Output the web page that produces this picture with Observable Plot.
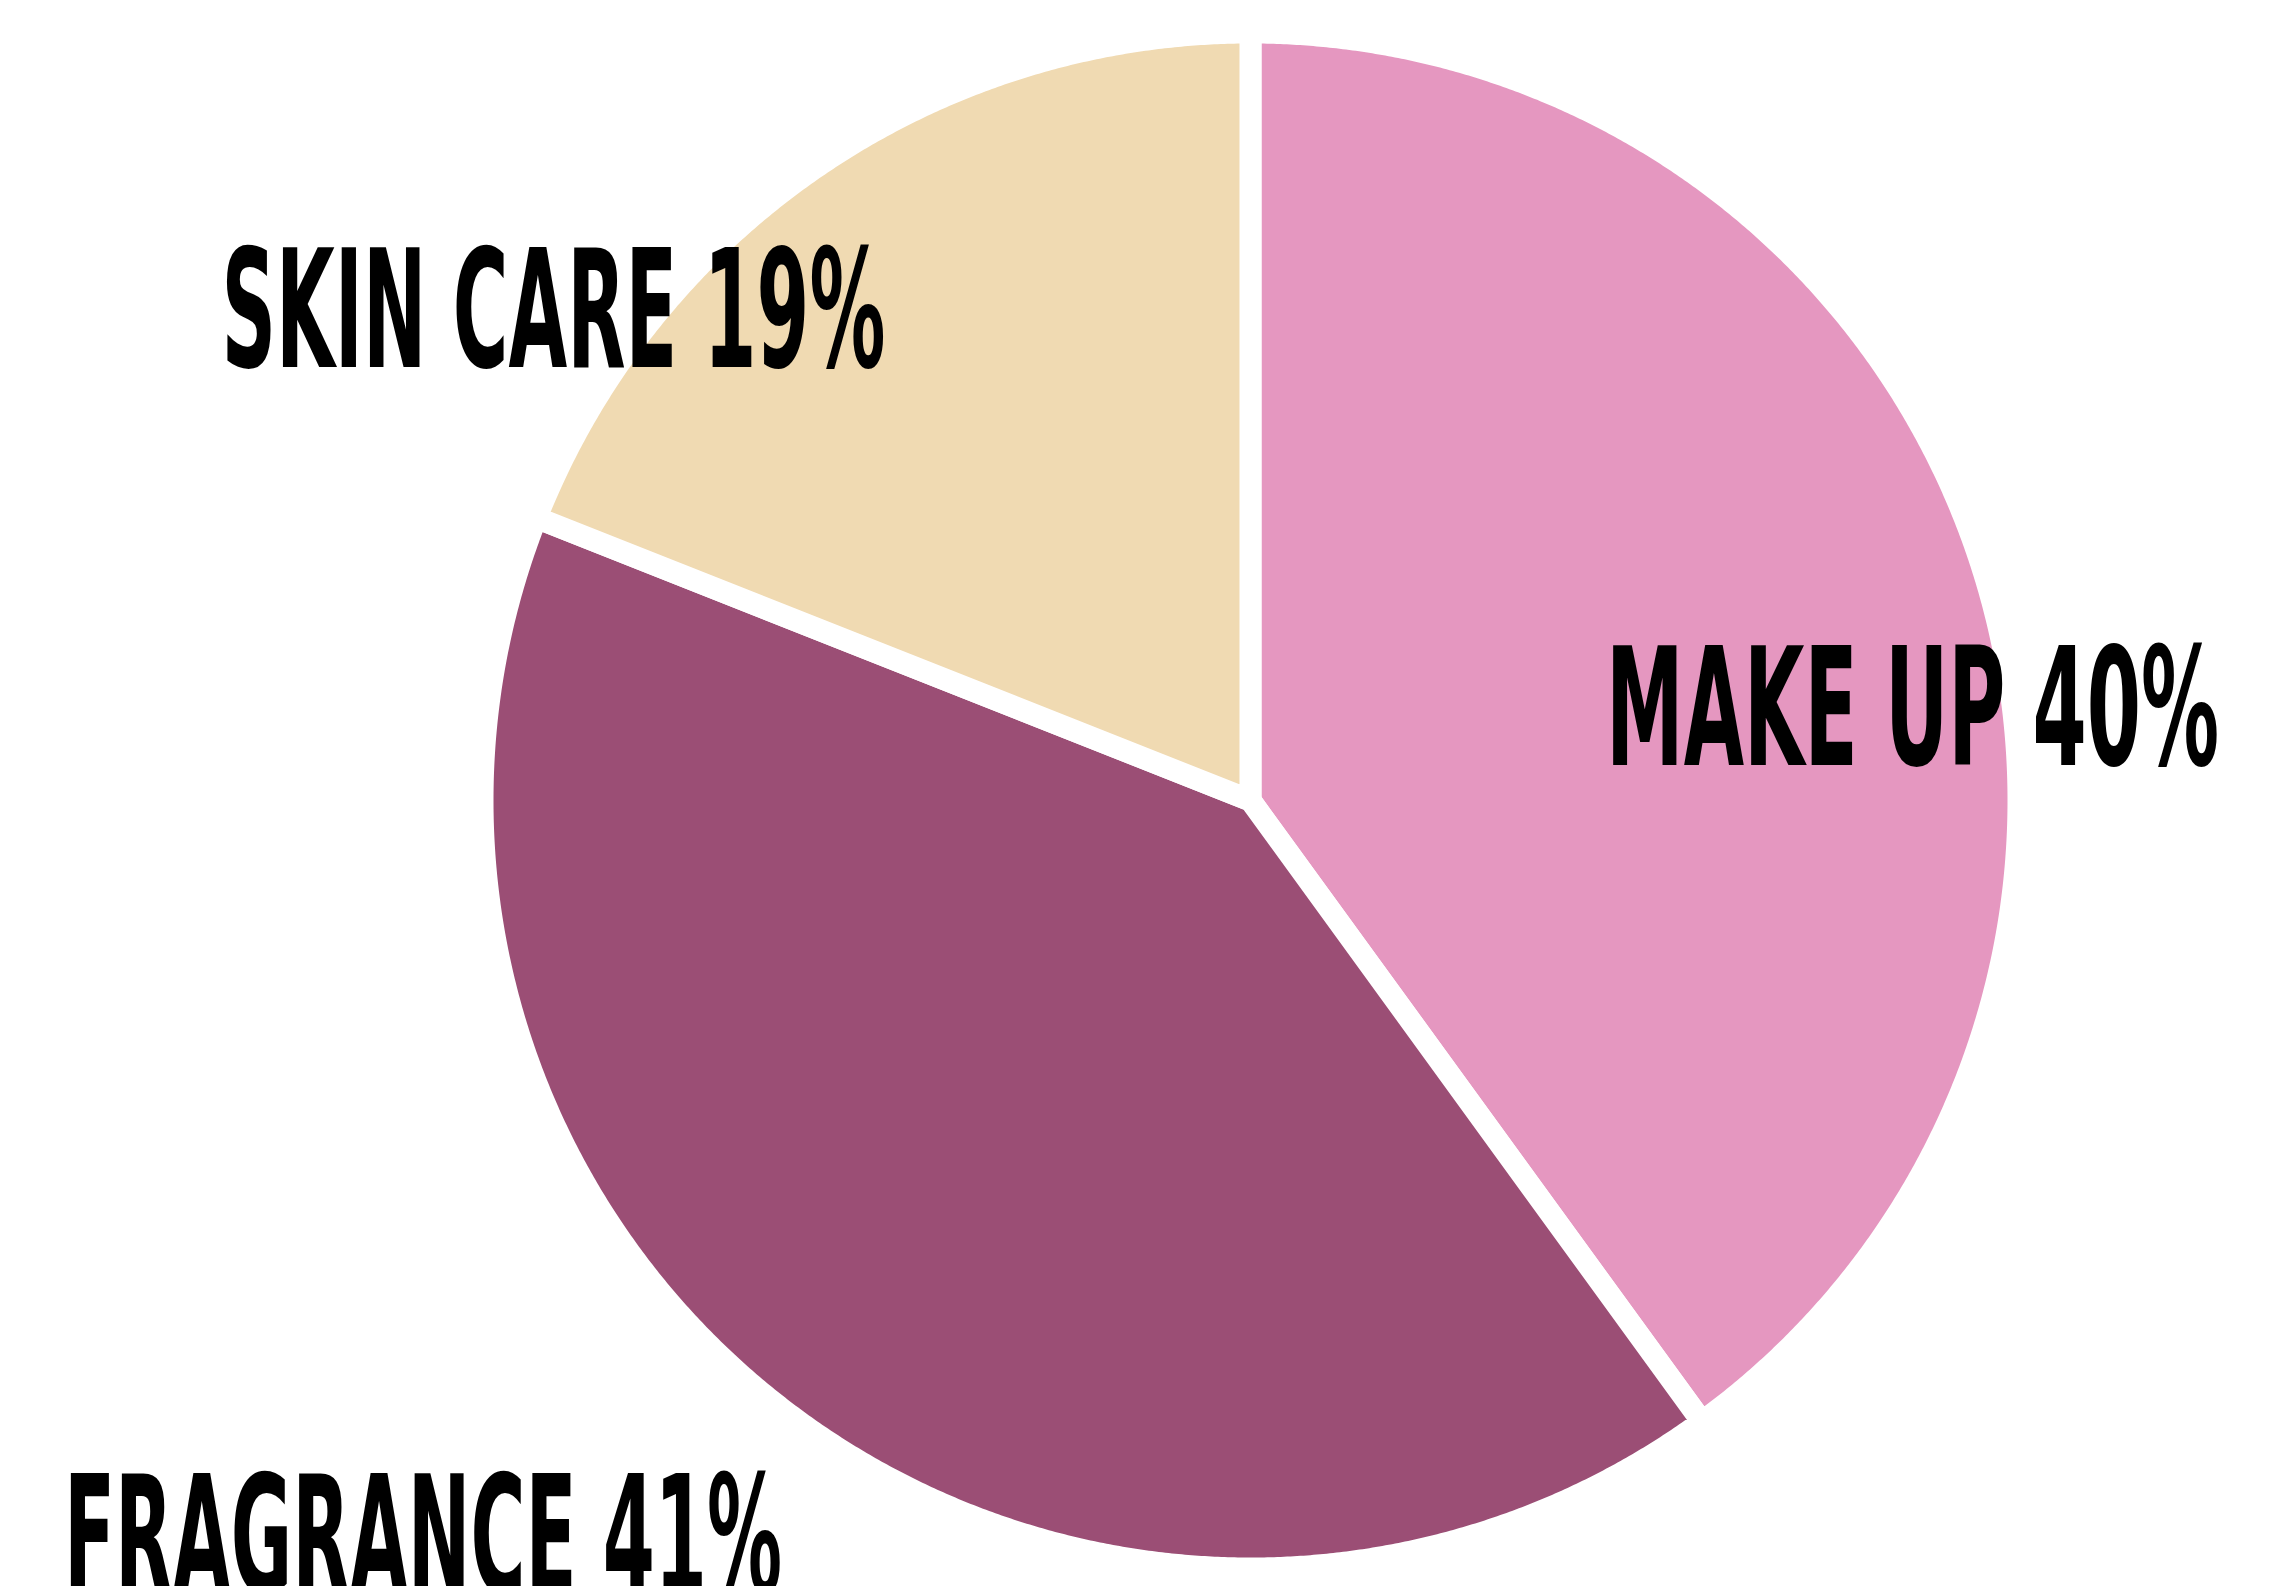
<!DOCTYPE html>
<html>
<head>
<meta charset="utf-8">
<script src="https://cdn.jsdelivr.net/npm/d3@7"></script>
<script src="https://cdn.jsdelivr.net/npm/@observablehq/plot@0.6"></script>
<style>
  html, body { margin: 0; padding: 0; background: #ffffff; }
  #chart svg { display: block; }
</style>
</head>
<body>
<div id="chart"></div>
<script>
// ---- data ----
const categories = ["MAKE UP", "FRAGRANCE", "SKIN CARE"];
const shares = [40, 41, 19];
const colors = ["#E597C0", "#9B4E75", "#F0DAB2"];
const labelTexts = ["MAKE UP 40%", "FRAGRANCE 41%", "SKIN CARE 19%"];

// ---- layout (not data) ----
const W = 2289, H = 1586;
const cx = 1250, cy = 800, R = 768;
const labelAnchors = [[0.463, 0.046], [-1.545, -1.032], [-1.340, 0.565]];
const labelWidths = [613, 718, 664];

// build slice polygons with d3.pie (clockwise from 12 o'clock)
const pie = d3.pie().sort(null).value(d => d.v)(categories.map((c, i) => ({c, v: shares[i]})));
const slices = [];
for (const a of pie) {
  const name = a.data.c;
  slices.push({name, x: 0, y: 0});
  const n = Math.max(2, Math.ceil((a.endAngle - a.startAngle) / (Math.PI / 720)));
  for (let k = 0; k <= n; k++) {
    const t = a.startAngle + (a.endAngle - a.startAngle) * k / n;
    slices.push({name, x: Math.sin(t), y: Math.cos(t)});
  }
  slices.push({name, x: 0, y: 0});
}

const labels = labelTexts.map((t, i) => ({t, x: labelAnchors[i][0], y: labelAnchors[i][1]}));

const svg = Plot.plot({
  width: W,
  height: H,
  margin: 0,
  style: {background: "#ffffff", overflow: "hidden"},
  x: {domain: [-1, 1], range: [cx - R, cx + R], axis: null},
  y: {domain: [-1, 1], range: [cy + R, cy - R], axis: null},
  color: {domain: categories, range: colors},
  marks: [
    Plot.line(slices, {
      x: "x", y: "y", z: "name", fill: "name",
      stroke: "#ffffff", strokeWidth: 22, strokeLinejoin: "round",
      curve: "linear"
    }),
    Plot.text(labels, {
      x: "x", y: "y", text: "t",
      textAnchor: "start", lineAnchor: "bottom",
      fill: "#000000",
      fontFamily: "'DejaVu Sans Condensed', 'Liberation Sans Narrow', sans-serif",
      fontWeight: "bold",
      fontSize: 164
    })
  ]
});

// condense the labels to the reference widths
svg.querySelectorAll('g[aria-label="text"] text').forEach((el, i) => {
  el.setAttribute("textLength", labelWidths[i]);
  el.setAttribute("lengthAdjust", "spacingAndGlyphs");
});

document.getElementById("chart").appendChild(svg);
</script>
</body>
</html>
